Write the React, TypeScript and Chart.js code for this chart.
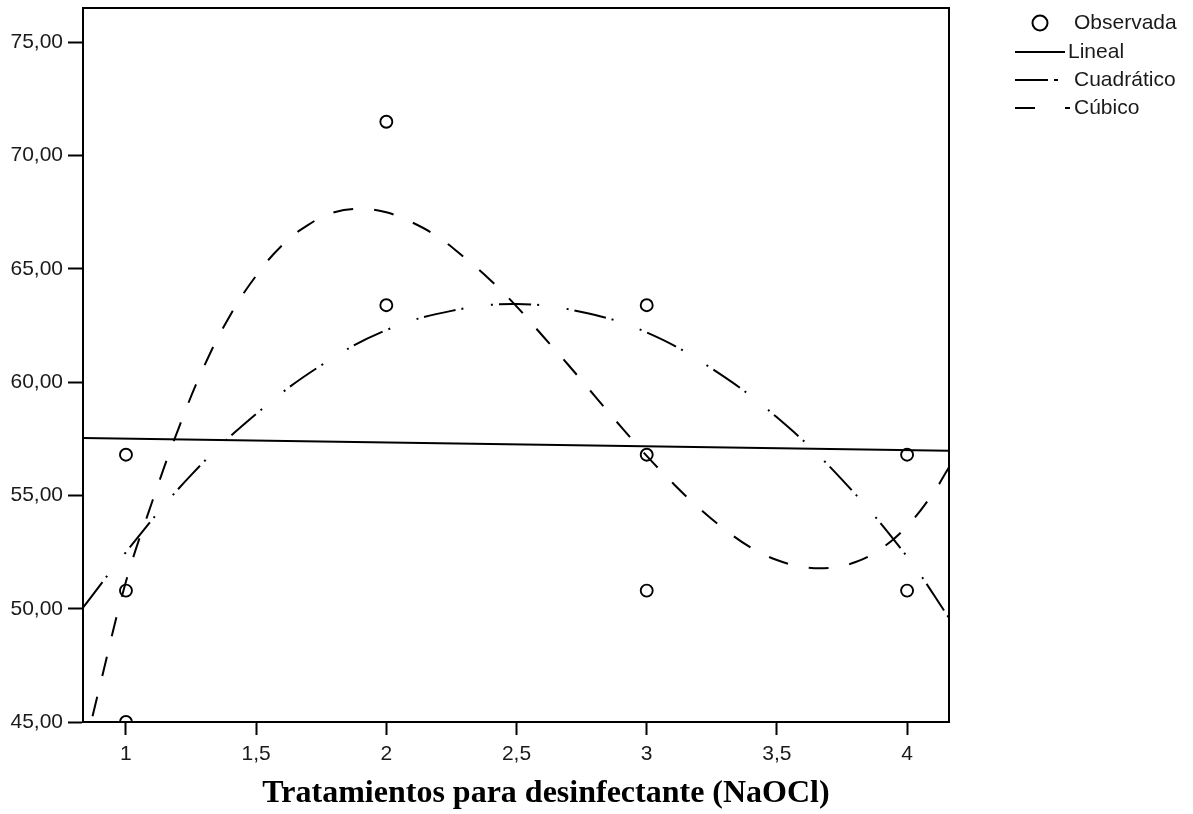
import React, { useEffect, useRef } from 'react';
import { Chart, registerables } from 'chart.js';

Chart.register(...registerables);

// Observed values
const obsX = [1, 1, 1, 2, 2, 3, 3, 3, 4, 4];
const obsY = [56.8, 50.8, 45.0, 71.5, 63.4, 63.4, 56.8, 50.8, 56.8, 50.8];

// Linear fit
const linX = [0.835, 4.161];
const linY = [57.54, 56.98];

// Quadratic fit
const quadX = [0.835, 1, 1.25, 1.5, 1.75, 2, 2.25, 2.5, 2.75, 3, 3.25, 3.5, 3.75, 4, 4.161];
const quadY = [50.05, 52.5, 55.9, 58.6, 60.75, 62.3, 63.15, 63.45, 63.1, 62.2, 60.6, 58.45, 55.7, 52.3, 49.6];

// Cubic fit
const cubX = [0.835, 0.9, 1.0, 1.1, 1.2, 1.3, 1.4, 1.5, 1.6, 1.7, 1.8, 1.9, 2.0, 2.1, 2.2, 2.3, 2.4, 2.5, 2.6, 2.7, 2.8, 2.9, 3.0, 3.1, 3.2, 3.3, 3.4, 3.5, 3.6, 3.7, 3.8, 3.9, 4.0, 4.1, 4.161];
const cubY = [43.5, 46.6, 51.2, 54.7, 57.9, 60.7, 62.95, 64.7, 66.05, 66.95, 67.5, 67.65, 67.5, 67.05, 66.4, 65.5, 64.5, 63.35, 62.05, 60.75, 59.4, 58.05, 56.75, 55.55, 54.45, 53.5, 52.7, 52.15, 51.85, 51.8, 52.05, 52.65, 53.65, 55.1, 56.25];

const xTicks = [1, 1.5, 2, 2.5, 3, 3.5, 4];
const yTicks = [45, 50, 55, 60, 65, 70, 75];
const xMin = 0.835;
const xMax = 4.161;
const yMin = 45;
const yMax = 76.52;

const seriesLabels = ['Observada', 'Lineal', 'Cuadrático', 'Cúbico'];
const xTitle = 'Tratamientos para desinfectante (NaOCl)';

const TEXT = '#1a1a1a';
const SANS = '"Liberation Sans", Arial, sans-serif';
const QUAD_DASH = [32, 6, 2, 28, 2, 6];
const CUB_DASH = [20, 21];

const toPts = (xs: number[], ys: number[]) => xs.map((x, i) => ({ x, y: ys[i] }));

const framePlugin = {
  id: 'frame',
  afterDraw(chart: any) {
    const { ctx, chartArea: a } = chart;
    ctx.save();
    ctx.strokeStyle = '#000';
    ctx.lineWidth = 2;
    ctx.strokeRect(a.left, a.top, a.right - a.left, a.bottom - a.top);
    ctx.restore();
  },
};

const titlePlugin = {
  id: 'xTitleCustom',
  afterDraw(chart: any) {
    const { ctx, chartArea: a } = chart;
    ctx.save();
    ctx.fillStyle = '#000';
    ctx.font = 'bold 32px "Liberation Serif", "Times New Roman", serif';
    ctx.textAlign = 'center';
    ctx.textBaseline = 'middle';
    ctx.fillText(xTitle, (a.left + a.right) / 2 + 30, 794);
    ctx.restore();
  },
};

const legendPlugin = {
  id: 'customLegend',
  afterDraw(chart: any) {
    const { ctx } = chart;
    const x0 = 1015;
    const rows = [23, 52, 80, 108];
    ctx.save();
    ctx.font = '21px ' + SANS;
    ctx.fillStyle = TEXT;
    ctx.textBaseline = 'middle';
    ctx.textAlign = 'left';
    ctx.strokeStyle = '#000';
    ctx.lineWidth = 2;
    // Observada
    ctx.beginPath();
    ctx.arc(1040, rows[0], 7.5, 0, Math.PI * 2);
    ctx.stroke();
    ctx.fillText(seriesLabels[0], 1074, rows[0]);
    // Lineal
    ctx.setLineDash([]);
    ctx.beginPath();
    ctx.moveTo(x0, rows[1]);
    ctx.lineTo(1065, rows[1]);
    ctx.stroke();
    ctx.fillText(seriesLabels[1], 1068, rows[1]);
    // Cuadratico
    ctx.setLineDash([33, 6, 4, 40]);
    ctx.beginPath();
    ctx.moveTo(x0, rows[2]);
    ctx.lineTo(1065, rows[2]);
    ctx.stroke();
    ctx.setLineDash([]);
    ctx.fillText(seriesLabels[2], 1074, rows[2]);
    // Cubico
    ctx.setLineDash([20, 30]);
    ctx.beginPath();
    ctx.moveTo(x0, rows[3]);
    ctx.lineTo(1070, rows[3]);
    ctx.stroke();
    ctx.setLineDash([]);
    ctx.fillText(seriesLabels[3], 1074, rows[3]);
    ctx.restore();
  },
};

export default function App() {
  const canvasRef = useRef<HTMLCanvasElement>(null);

  useEffect(() => {
    const canvas = canvasRef.current;
    if (!canvas) return;
    const chart = new Chart(canvas, {
      type: 'scatter',
      data: {
        datasets: [
          {
            label: seriesLabels[0],
            data: toPts(obsX, obsY),
            showLine: false,
            pointStyle: 'circle',
            pointRadius: 6,
            pointBorderWidth: 1.9,
            pointBorderColor: '#000',
            pointBackgroundColor: 'rgba(0,0,0,0)',
            clip: 0,
          },
          {
            label: seriesLabels[1],
            data: toPts(linX, linY),
            showLine: true,
            borderColor: '#000',
            borderWidth: 2,
            pointRadius: 0,
            clip: 1,
          },
          {
            label: seriesLabels[2],
            data: toPts(quadX, quadY),
            showLine: true,
            borderColor: '#000',
            borderWidth: 2,
            borderDash: QUAD_DASH,
            pointRadius: 0,
            tension: 0.4,
            clip: 1,
          },
          {
            label: seriesLabels[3],
            data: toPts(cubX, cubY),
            showLine: true,
            borderColor: '#000',
            borderWidth: 2,
            borderDash: CUB_DASH,
            pointRadius: 0,
            tension: 0.4,
            clip: 1,
          },
        ],
      } as any,
      options: {
        animation: false,
        responsive: true,
        maintainAspectRatio: false,
        layout: { padding: { top: 8, right: 244, left: 0, bottom: 0 } },
        plugins: {
          legend: { display: false },
          tooltip: { enabled: false },
          title: { display: false },
        },
        scales: {
          x: {
            type: 'linear',
            min: xMin,
            max: xMax,
            afterBuildTicks: (scale: any) => {
              scale.ticks = xTicks.map((v) => ({ value: v }));
            },
            afterFit: (scale: any) => {
              scale.height = 92;
              scale.paddingLeft = 0;
              scale.paddingRight = 0;
            },
            ticks: {
              color: TEXT,
              font: { family: SANS, size: 21 },
              padding: 7,
              maxRotation: 0,
              autoSkip: false,
              callback: (v: any) => String(v).replace('.', ','),
            },
            grid: {
              display: true,
              drawOnChartArea: false,
              drawTicks: true,
              tickLength: 13,
              tickWidth: 2,
              tickColor: '#000',
            },
            border: { display: true, color: '#000', width: 2 },
          },
          y: {
            type: 'linear',
            min: yMin,
            max: yMax,
            afterBuildTicks: (scale: any) => {
              scale.ticks = yTicks.map((v) => ({ value: v }));
            },
            afterFit: (scale: any) => {
              scale.width = 83;
              scale.paddingTop = 0;
              scale.paddingBottom = 0;
            },
            ticks: {
              color: TEXT,
              font: { family: SANS, size: 21 },
              padding: 5,
              autoSkip: false,
              callback: (v: any) => Number(v).toFixed(2).replace('.', ','),
            },
            grid: {
              display: true,
              drawOnChartArea: false,
              drawTicks: true,
              tickLength: 15,
              tickWidth: 2,
              tickColor: '#000',
            },
            border: { display: true, color: '#000', width: 2 },
          },
        },
      } as any,
      plugins: [framePlugin, titlePlugin, legendPlugin],
    });
    return () => chart.destroy();
  }, []);

  return (
    <div style={{ position: 'fixed', left: 0, top: 0, width: 1193, height: 814, background: '#fff' }}>
      <canvas ref={canvasRef} />
    </div>
  );
}
